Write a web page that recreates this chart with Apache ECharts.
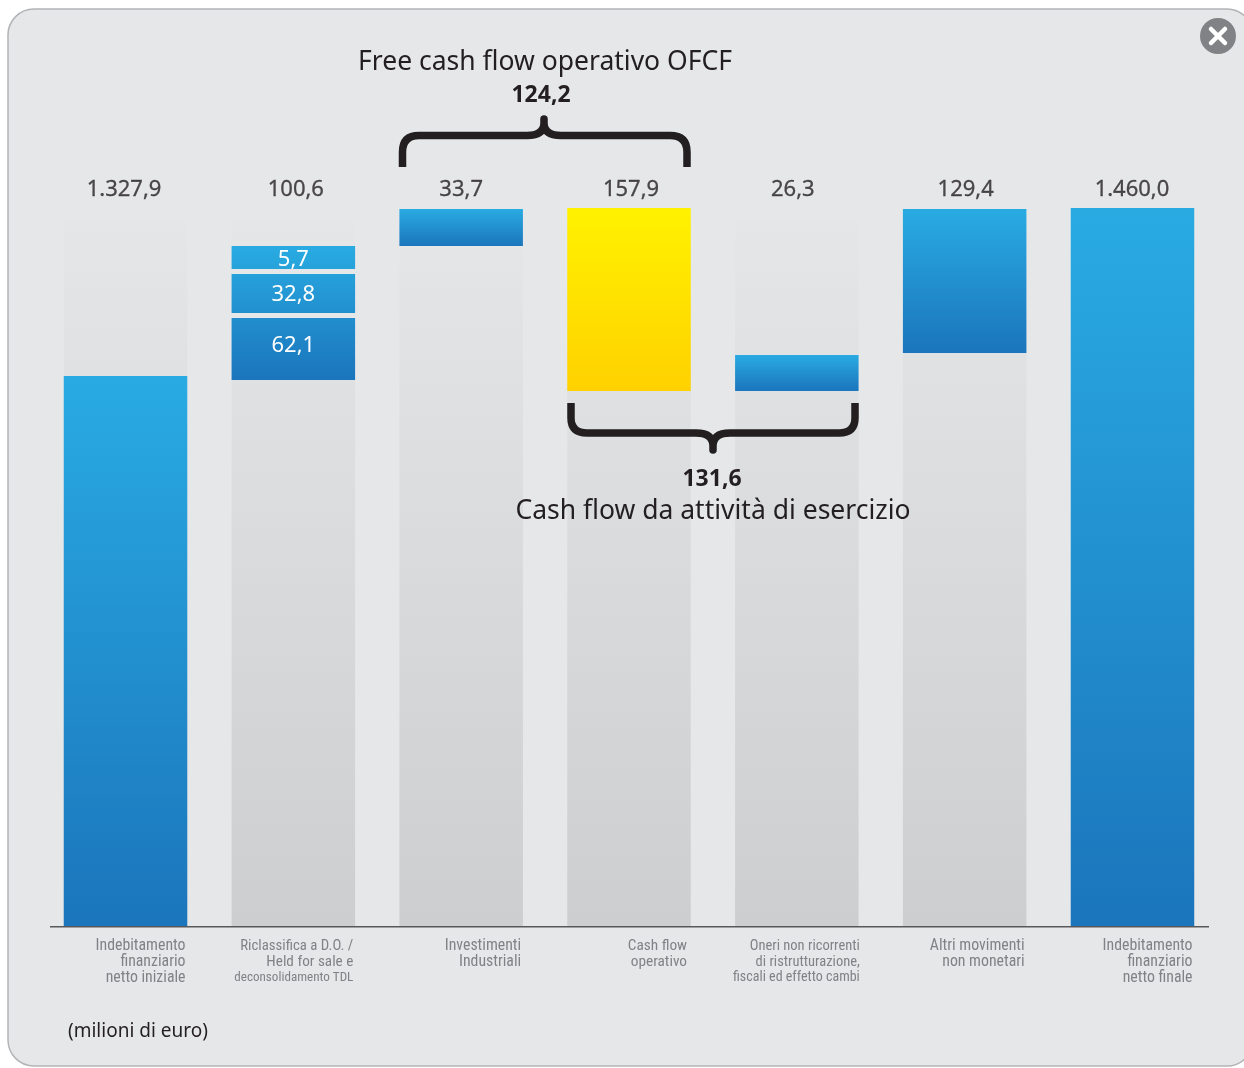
<!DOCTYPE html>
<html><head><meta charset="utf-8">
<style>html,body{margin:0;padding:0;background:#fff}#c{width:1244px;height:1068px}</style>
<script src="https://cdn.jsdelivr.net/npm/echarts@6/dist/echarts.min.js"></script>
</head><body><div id="c"></div>
<script>
const categories = [
  "Indebitamento\nfinanziario\nnetto iniziale",
  "Riclassifica a D.O. /\nHeld for sale e\ndeconsolidamento TDL",
  "Investimenti\nIndustriali",
  "Cash flow\noperativo",
  "Oneri non ricorrenti\ndi ristrutturazione,\nfiscali ed effetto cambi",
  "Altri movimenti\nnon monetari",
  "Indebitamento\nfinanziario\nnetto finale"
];
const topLabels = ["1.327,9","100,6","33,7","157,9","26,3","129,4","1.460,0"];
const innerLabels = ["62,1","32,8","5,7"];
// heights as drawn in the picture (the source chart is not strictly to scale)
const trackTop  = [1449,1449,1449,1449,1449,1449,null];
const floatBase = [895,1324.7,1430.1,1316.1,1316.1,1346,895];
const segLower  = [432.9,48.8,29.1,143.9,28.3,113.2,565];
const gapLower  = [0,3.9,0,0,0,0,0];
const segMiddle = [0,30.7,0,0,0,0,0];
const gapUpper  = [0,3.9,0,0,0,0,0];
const segUpper  = [0,18.1,0,0,0,0,0];
const axisMin = 895, axisMax = 1460;

const topOffsets = [-1.5,2.5,0,2,-4,1,-0.5];
const hex = c => [1,3,5].map(i => parseInt(c.substr(i,2),16));
const mix = (a,b,t) => { const A=hex(a),B=hex(b); return 'rgb('+A.map((v,i)=>Math.round(v+(B[i]-v)*t)).join(',')+')'; };
const grad = (a,b) => new echarts.graphic.LinearGradient(0,0,0,1,[{offset:0,color:a},{offset:1,color:b}]);
const BT='#29abe2', BB='#1b75bc';
const blue = grad(BT,BB);
const part = (t0,t1) => grad(mix(BT,BB,t0),mix(BT,BB,t1));
const lowerColors = [blue, part(.537,1), blue, grad('#fff200','#ffd100'), blue, blue, blue];
const FONT = '"Noto Sans"', INK = '#231f20';
const common = {type:'bar',barWidth:123.5,barGap:'-100%',silent:true};
const innerLabel = (txt,dy) => ({show:true,position:'inside',formatter:txt,color:'#fff',fontFamily:FONT,fontSize:22,offset:[0,dy]});
const seriesList = [
  {...common,name:'track',z:1,data:trackTop,itemStyle:{color:grad('#e5e6e8','#cdced0')}},
  {...common,name:'base',stack:'w',z:2,data:floatBase,itemStyle:{color:'transparent'}},
  {...common,name:'lower',stack:'w',z:2,data:segLower.map((v,i)=>({value:v,itemStyle:{color:lowerColors[i]},
      label:i===1?innerLabel(innerLabels[0],-3):{show:false}}))},
  {...common,name:'gap1',stack:'w',z:2,data:gapLower,itemStyle:{color:'#e6e7e9'}},
  {...common,name:'middle',stack:'w',z:2,data:segMiddle.map((v,i)=>({value:v,itemStyle:{color:part(.209,.5)},
      label:i===1?innerLabel(innerLabels[1],1):{show:false}}))},
  {...common,name:'gap2',stack:'w',z:2,data:gapUpper,itemStyle:{color:'#e6e7e9'}},
  {...common,name:'upper',stack:'w',z:2,data:segUpper.map((v,i)=>({value:v,itemStyle:{color:part(0,.172)},
      label:i===1?innerLabel(innerLabels[2],2):{show:false}}))},
  {type:'scatter',name:'totals',z:3,silent:true,symbolSize:1,itemStyle:{color:'transparent'},
   data:topLabels.map((t,i)=>({value:[i,axisMax],label:{show:true,position:'top',formatter:t,offset:[topOffsets[i],-2],
      color:INK,textBorderColor:INK,textBorderWidth:0.3,fontFamily:FONT,fontSize:22}}))}
];
const text = (t,x,y,size,weight,align) => ({type:'text',z:5,silent:true,style:{text:t,x,y,fill:INK,
    font:(weight||'normal')+' '+size+'px '+FONT,textAlign:align||'center',textVerticalAlign:'middle'}});
echarts.graphic.registerShape('braceTop', echarts.graphic.extendPath('M402.5 167 V152 Q402.5 135.5 419 135.5 H527 Q544 135.5 544 123 V119 V123 Q544 135.5 561 135.5 H670 Q687 135.5 687 152 V167',{}));
echarts.graphic.registerShape('braceBottom', echarts.graphic.extendPath('M571 403 V418 Q571 433 587 433 H696 Q713 433 713 446 V450 V446 Q713 433 730 433 H839 Q855 433 855 418 V403',{}));
const brace = name => ({type:name,z:5,silent:true,shape:{},style:{fill:'none',stroke:INK,lineWidth:7.5,lineCap:'butt',lineJoin:'round'}});
const COND = '"Roboto Condensed","Noto Sans Condensed","DejaVu Sans Condensed",Roboto,sans-serif';
const lineStyle = (size,pad) => ({fontFamily:COND,fontSize:size,lineHeight:15.7,color:'#808285',padding:[0,pad||0,0,0]});
const lineClass = {
  "Riclassifica a D.O. /":'b', "Held for sale e":'f', "deconsolidamento TDL":'c',
  "Oneri non ricorrenti":'d', "di ristrutturazione,":'d', "fiscali ed effetto cambi":'e',
  "Cash flow":'g', "operativo":'g'
};
const chart = echarts.init(document.getElementById('c'),null,{renderer:'canvas'});
chart.setOption({
  animation:false,
  backgroundColor:'#fff',
  grid:{left:41.6,width:1174.8,top:208,height:718.5},
  xAxis:{type:'category',data:categories,axisTick:{show:false},axisLine:{show:false},
    axisLabel:{interval:0,align:'right',margin:12,padding:[0,-60,0,0],color:'#808285',
      fontFamily:COND,fontSize:15.8,lineHeight:15.7,
      formatter:v=>v.split('\n').map(l=>'{'+(lineClass[l]||'a')+'|'+l+'}').join('\n'),
      rich:{a:lineStyle(15.8),b:lineStyle(14.8),f:lineStyle(15.2),c:lineStyle(13.1),d:lineStyle(14.5,-3),e:lineStyle(14,-3),g:lineStyle(15.3,2)}}},
  yAxis:{type:'value',min:axisMin,max:axisMax,show:false},
  series:seriesList,
  graphic:[
    {type:'rect',z:-10,silent:true,shape:{x:8,y:9,width:1245,height:1057,r:26},style:{fill:'#e6e7e9',stroke:'#b3b4b6',lineWidth:1.5}},
    {type:'line',z:4,silent:true,shape:{x1:50,y1:926.8,x2:1209,y2:926.8},style:{stroke:'#58595b',lineWidth:1.6}},
    text('Free cash flow operativo OFCF',545,62,26.5),
    text('124,2',541,95,23,'bold'),
    text('131,6',712,479,23,'bold'),
    text('Cash flow da attività di esercizio',713,511,26.5),
    text('(milioni di euro)',68,1032,19,'normal','left'),
    brace('braceTop'),
    brace('braceBottom'),
    {type:'circle',z:5,silent:true,shape:{cx:1218,cy:36,r:18},style:{fill:'#808285'}},
    {type:'line',z:6,silent:true,shape:{x1:1211,y1:29,x2:1225,y2:43},style:{stroke:'#fff',lineWidth:4.5,lineCap:'round'}},
    {type:'line',z:6,silent:true,shape:{x1:1225,y1:29,x2:1211,y2:43},style:{stroke:'#fff',lineWidth:4.5,lineCap:'round'}}
  ]
});
</script></body></html>
